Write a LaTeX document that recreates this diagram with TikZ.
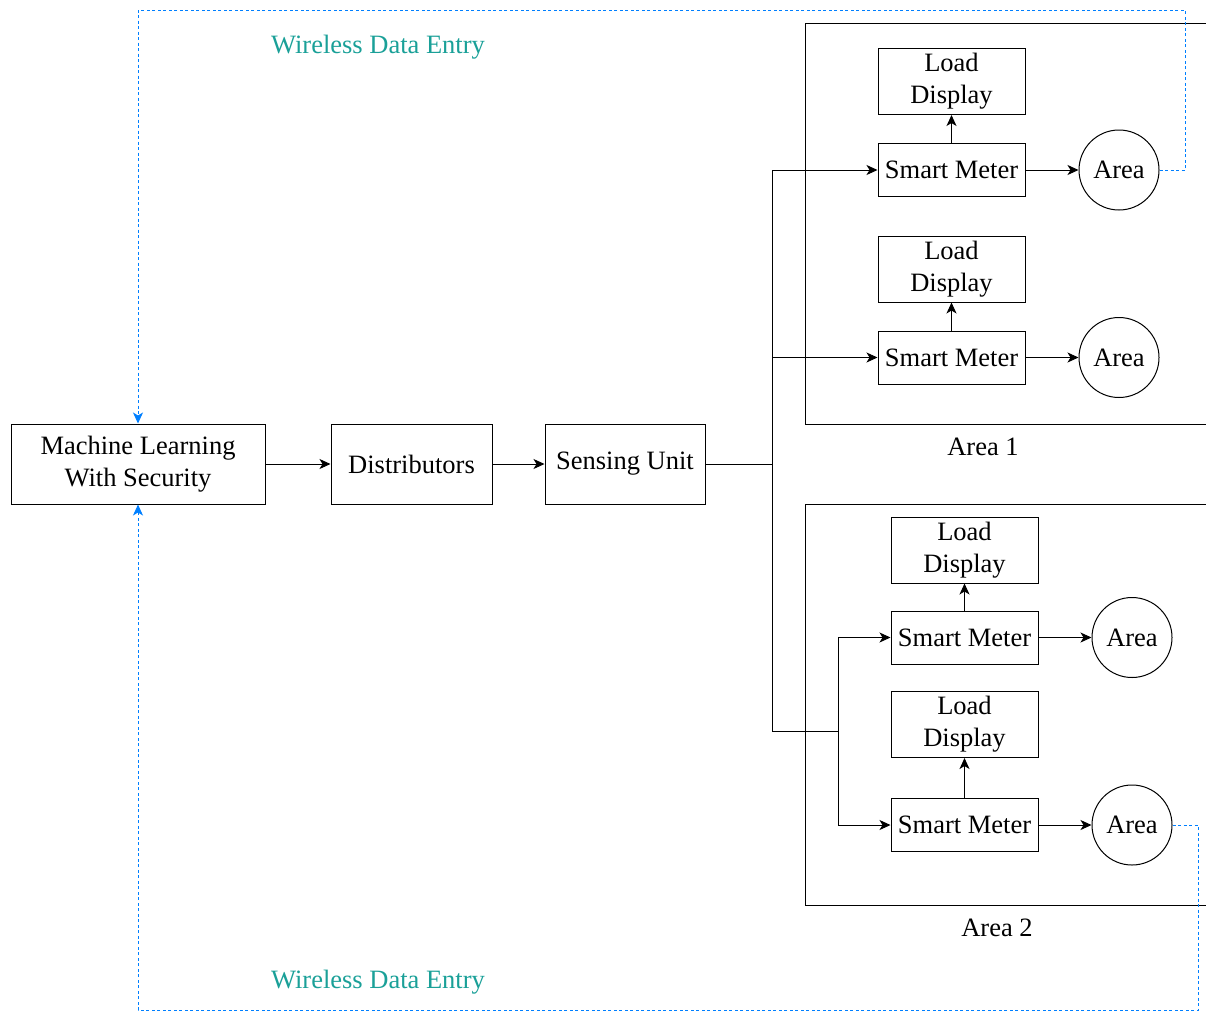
\documentclass[tikz,border=0pt]{standalone}
\usepackage{fontspec}
\setmainfont{Liberation Serif}
\usepackage{tikz}
\usetikzlibrary {positioning,
                 arrows.meta}
\definecolor{wirelessblue}{RGB}{0,127,255}
\definecolor{wirelessteal}{RGB}{26,160,152}
\tikzset{
         box/.style={draw, line width=1pt, align=center, inner sep=0pt},
         meter/.style={box, minimum width=147pt, minimum height=53pt},
         loadbox/.style={box, minimum width=147pt, minimum height=66pt},
         areacirc/.style={draw, circle, line width=1pt, minimum size=80pt, inner sep=0pt},
         myarrow/.style={-{Stealth[length=11pt, width=10pt, inset=3pt]}, line width=1pt},
         wireless/.style={wirelessblue, line width=1pt, dash pattern=on 3pt off 2.5pt},
         wirelessarrow/.style={wireless, -{Stealth[length=11pt, width=10pt, inset=3pt]}},
}

\begin{document}
\begin{tikzpicture}[x=1pt, y=-1pt, font=\fontsize{26.5}{32}\selectfont]
    \useasboundingbox (0,0) rectangle (1206,1012);

    % Hauptkette
    \node[box, minimum width=254pt, minimum height=80pt] (ml) at (138,464) {Machine Learning\\With Security};
    \node[box, minimum width=161pt, minimum height=80pt, right=65pt of ml] (dist) {Distributors};
    \node[box, minimum width=160pt, minimum height=80pt, right=52pt of dist] (sens) {Sensing Unit};
    \draw[myarrow] (ml) -- (dist);
    \draw[myarrow] (dist) -- (sens);

    % Area 1
    \draw[line width=1pt] (1206,23) -- (805,23) -- (805,424) -- (1206,424);
    \node (area1_text) at (983,447) {Area 1};
    \node[meter] (sm1) at (951.5,170) {Smart Meter};
    \node[loadbox, above=28pt of sm1] (ld1) {Load\\Display};
    \node[areacirc, right=53pt of sm1] (c1) {Area};
    \node[meter] (sm2) at (951.5,357.5) {Smart Meter};
    \node[loadbox, above=28pt of sm2] (ld2) {Load\\Display};
    \node[areacirc, right=53pt of sm2] (c2) {Area};

    % Area 2
    \draw[line width=1pt] (1206,504) -- (805,504) -- (805,905) -- (1206,905);
    \node (area2_text) at (997,928) {Area 2};
    \node[meter] (sm3) at (964.5,637.5) {Smart Meter};
    \node[loadbox, above=27pt of sm3] (ld3) {Load\\Display};
    \node[areacirc, right=53pt of sm3] (c3) {Area};
    \node[meter] (sm4) at (964.5,825) {Smart Meter};
    \node[loadbox, above=40pt of sm4] (ld4) {Load\\Display};
    \node[areacirc, right=53pt of sm4] (c4) {Area};

    % Verteilung
    \coordinate (j0) at (772,464);
    \coordinate (j1) at (772,731);
    \coordinate (j2) at (838,731);
    \draw[line width=1pt] (sens) -- (j0);
    \draw[line width=1pt] (772,170) -- (j1) -- (j2);
    \draw[myarrow] (772,170) -- (sm1);
    \draw[myarrow] (772,357.5) -- (sm2);
    \draw[line width=1pt] (838,637.5) -- (838,825);
    \draw[myarrow] (838,637.5) -- (sm3);
    \draw[myarrow] (838,825) -- (sm4);
    \foreach \i in {1,...,4} {
        \draw[myarrow] (sm\i) -- (c\i);
        \draw[myarrow] (sm\i) -- (ld\i);
    }

    % Wireless
    \coordinate (w1) at (1185,10);
    \coordinate (w2) at (1198,1010);
    \draw[wirelessarrow] (c1.east) -| (w1) -| (ml.north);
    \draw[wirelessarrow] (c4.east) -| (w2) -| (ml.south);
    \node[wirelessteal] (wl_top) at (378,47) {Wireless Data Entry};
    \node[wirelessteal] (wl_bot) at (378,982) {Wireless Data Entry};
\end{tikzpicture}
\end{document}
